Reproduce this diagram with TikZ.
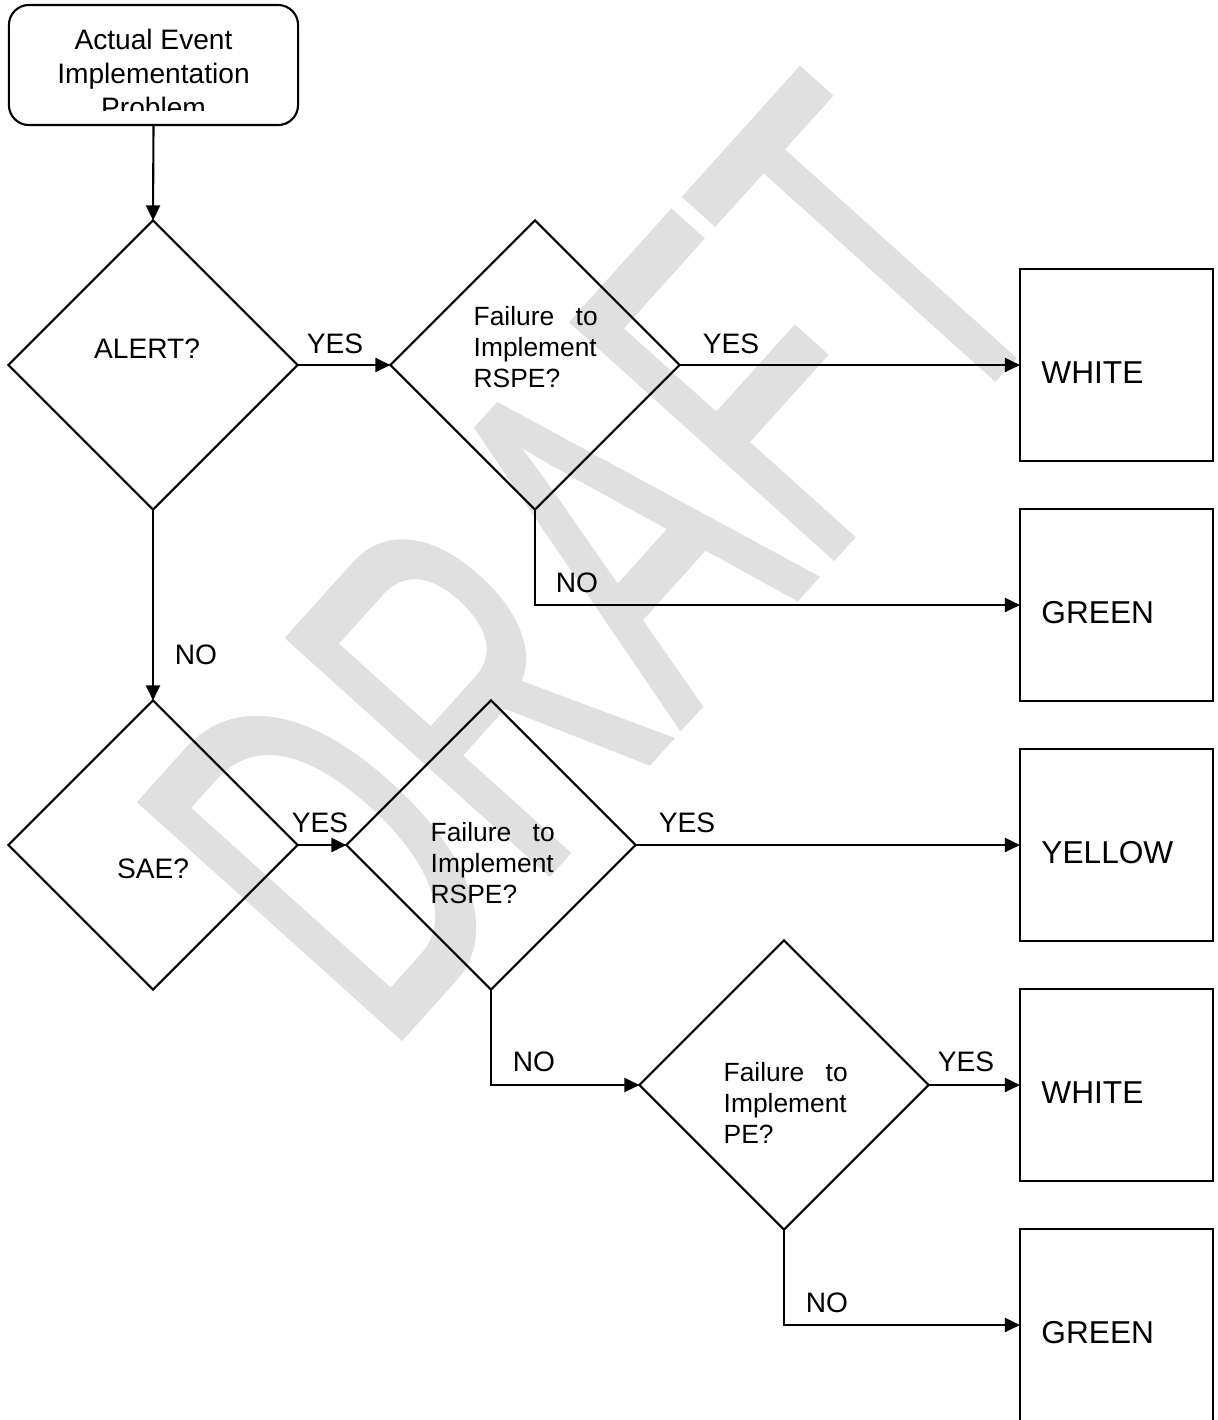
\documentclass[tikz,border=0pt]{standalone}
\usepackage{fontspec}
\setmainfont{Liberation Sans}
\newfontfamily\wmfont{Liberation Sans}[FakeBold=1.2]
\usetikzlibrary{arrows.meta,shapes.geometric}
\definecolor{wmgray}{RGB}{224,224,224}
\tikzset{
  conn/.style={line width=0.6pt,-{Triangle[length=0.15cm,width=0.14cm]}},
  startbox/.style={draw,fill=white,line width=0.6pt,rounded corners=0.2cm,minimum width=2.89cm,minimum height=1.2cm,inner sep=0pt},
  decision/.style={draw,line width=0.6pt,shape=diamond,aspect=1,minimum width=2.89cm,minimum height=2.89cm,inner sep=0pt,outer sep=0pt},
  outbox/.style={draw,fill=white,line width=0.6pt,minimum width=1.93cm,minimum height=1.92cm,text width=1.5cm,align=left,inner xsep=0.215cm,inner ysep=0pt,outer sep=0pt,font=\fontsize{9}{10}\selectfont,text height=10.4pt,text depth=0pt},
  qtext/.style={font=\fontsize{8}{9.7}\selectfont,inner sep=0pt},
  ftext/.style={font=\fontsize{7.5}{8.8}\selectfont,text width=1.24cm,align=left,inner sep=0pt,anchor=north west},
  lbl/.style={font=\fontsize{8}{9.7}\selectfont,inner sep=0pt}
}

\begin{document}
\begin{tikzpicture}[x=0.01cm,y=-0.01cm]
  \useasboundingbox (0,0) rectangle (1217,1420);
  % watermark
  \node[rotate=48,xscale=0.6,text=wmgray,font=\wmfont\fontsize{145}{145}\selectfont,inner sep=0pt] (wm) at (595,560) {DRAFT};

  % start
  \node[startbox] (start) at (153.5,65) {};
  \begin{scope}
    \clip (9,5) rectangle (298,110);
    \node[qtext,align=center,anchor=north] (starttxt) at (153.5,28) {Actual Event\\Implementation\\Problem};
  \end{scope}

  % decisions
  \node[decision] (alert) at (153,365) {};
  \node[decision] (rspe1) at (535,365) {};
  \node[decision] (sae) at (153,845) {};
  \node[decision] (rspe2) at (491,845) {};
  \node[decision] (pe) at (784,1085) {};
  \node[qtext] (alerttxt) at (147,349) {ALERT?};
  \node[qtext] (saetxt) at (153,869) {SAE?};
  \node[ftext] (rspe1txt) at (473,306) {Failure\hfill to\\Implement\\RSPE?};
  \node[ftext] (rspe2txt) at (430,822) {Failure\hfill to\\Implement\\RSPE?};
  \node[ftext] (petxt) at (723,1062) {Failure\hfill to\\Implement\\PE?};

  % outcomes
  \node[outbox] (white1) at (1116.5,365) {WHITE};
  \node[outbox] (green1) at (1116.5,605) {GREEN};
  \node[outbox] (yellow) at (1116.5,845) {YELLOW};
  \node[outbox] (white2) at (1116.5,1085) {WHITE};
  \node[outbox] (green2) at (1116.5,1325) {GREEN};

  % connectors
  \draw[conn] (start.south) -- (alert.north);
  \draw[conn] (alert.east) -- (rspe1.west);
  \draw[conn] (rspe1.east) -- (white1.west);
  \draw[conn] (rspe1.south) |- (green1.west);
  \draw[conn] (alert.south) -- (sae.north);
  \draw[conn] (sae.east) -- (rspe2.west);
  \draw[conn] (rspe2.east) -- (yellow.west);
  \draw[conn] (rspe2.south) |- (pe.west);
  \draw[conn] (pe.east) -- (white2.west);
  \draw[conn] (pe.south) |- (green2.west);

  % labels
  \node[lbl] (yes1) at (335,344) {YES};
  \node[lbl] (yes2) at (731,344) {YES};
  \node[lbl] (no1) at (577,583) {NO};
  \node[lbl] (no2) at (196,655) {NO};
  \node[lbl] (yes3) at (320,823) {YES};
  \node[lbl] (yes4) at (687,823) {YES};
  \node[lbl] (no3) at (534,1062) {NO};
  \node[lbl] (yes5) at (966,1062) {YES};
  \node[lbl] (no4) at (827,1303) {NO};
\end{tikzpicture}
\end{document}
